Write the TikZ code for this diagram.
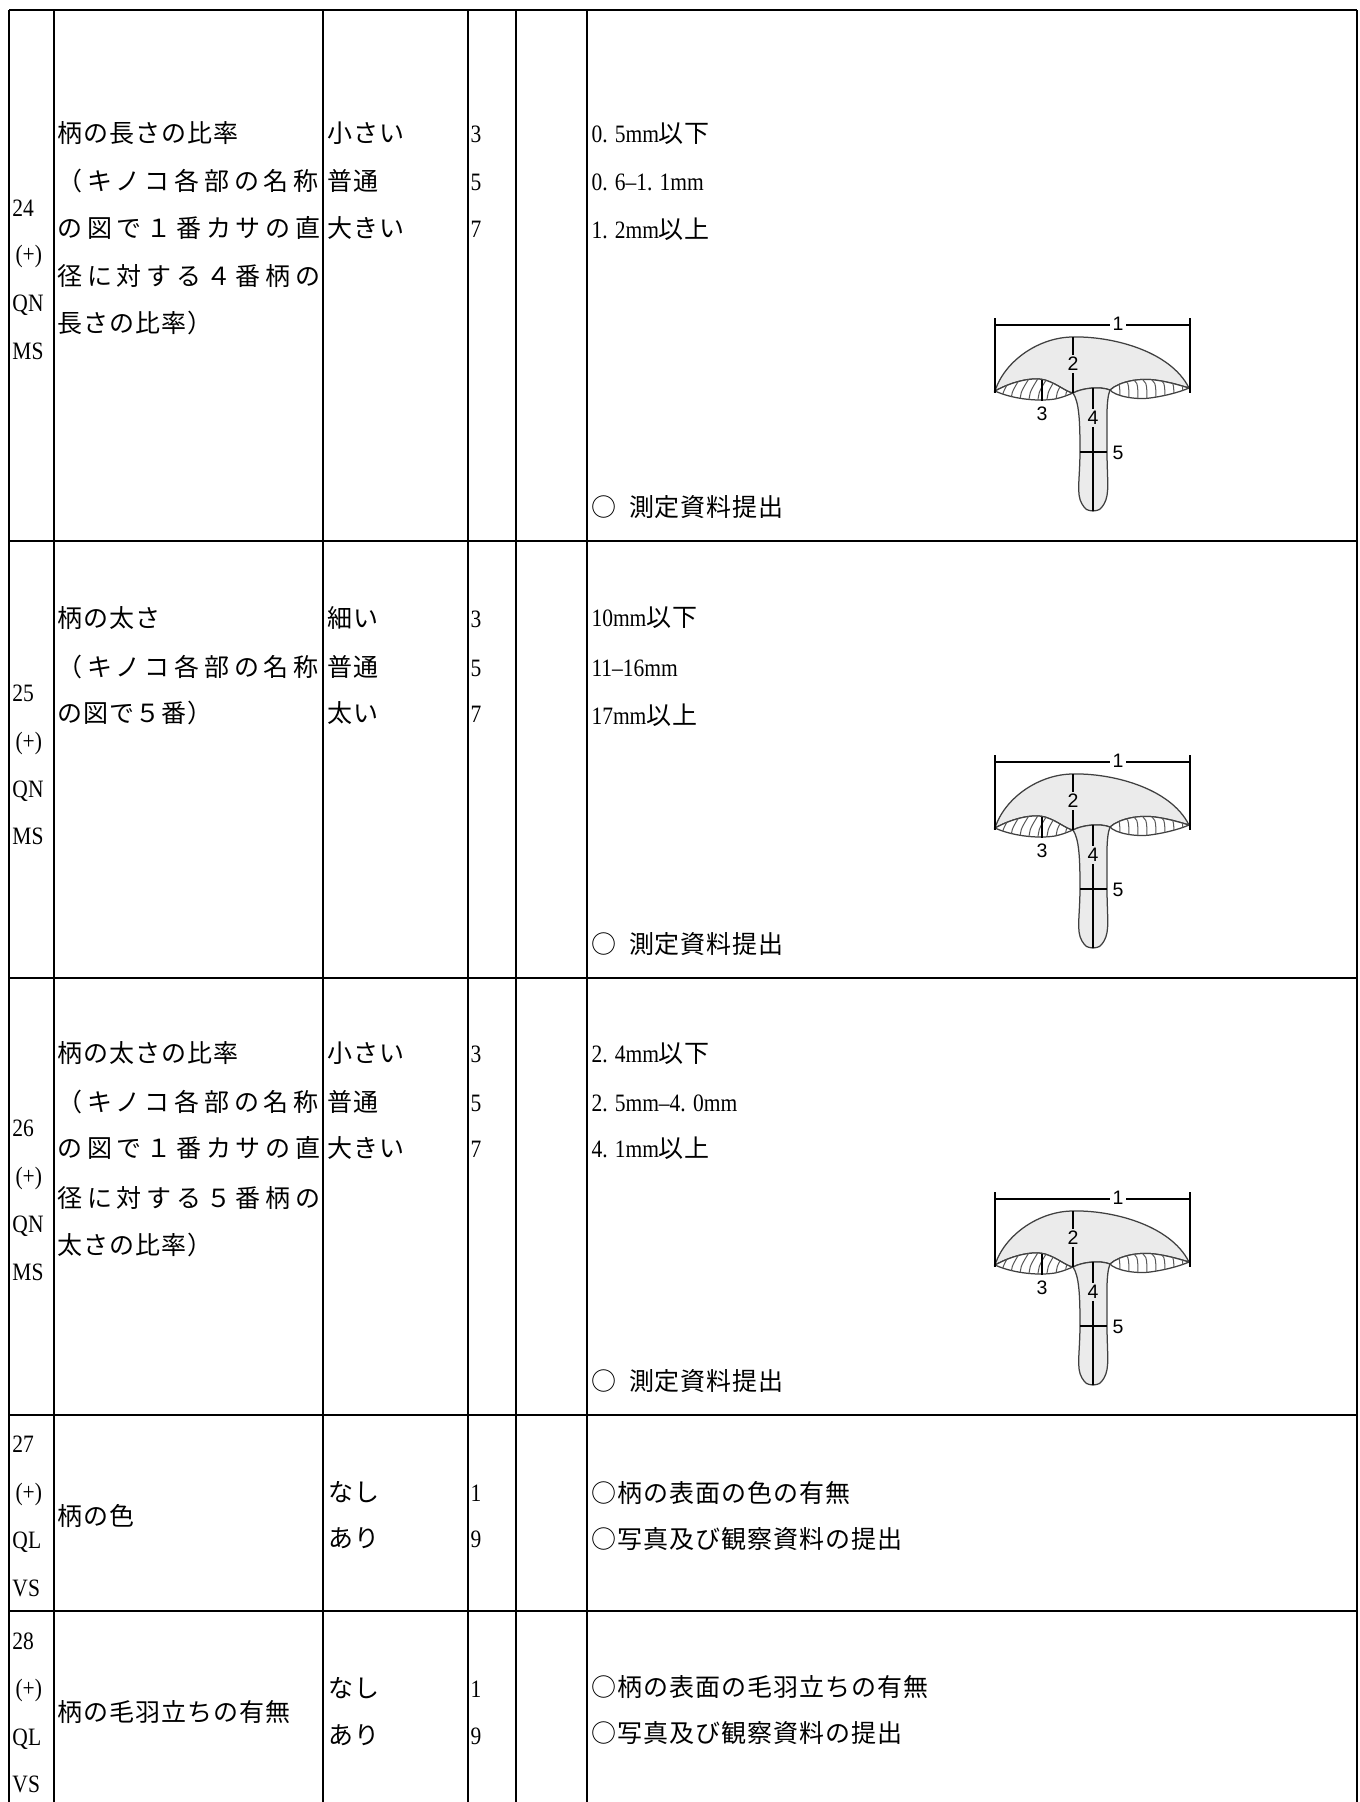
\documentclass[tikz,border=0pt]{standalone}
\usepackage{fontspec}
\setmainfont[FakeStretch=0.86]{Liberation Serif}
\setsansfont{Liberation Sans}
\newfontfamily\jp[LetterSpace=4]{Noto Sans CJK JP}
\newfontfamily\jpw[LetterSpace=19]{Noto Sans CJK JP}

\tikzset{
  grid/.style={line width=0.6pt},
  txt/.style={anchor=west, inner sep=0pt, text height=0.88em, text depth=0.12em, font=\fontsize{10}{12}\selectfont},
  part/.style={fill=black!8, draw=black!75, line width=0.5pt},
  gill/.style={fill=white, draw=black!75, line width=0.5pt},
  hatch/.style={draw=black!65, line width=0.4pt},
  dim/.style={draw=black, line width=0.45pt},
  num/.style={font=\sffamily\fontsize{7.8}{9}\selectfont, inner sep=1pt},
}

\begin{document}
\begin{tikzpicture}[x=0.4pt, y=-0.4pt]
  \useasboundingbox (0,0) rectangle (1360,1802);
  \fill[white] (0,0) rectangle (1360,1802);

  % table lines
  \foreach \x in {9,54,323,468,516,587,1357}
    \draw[grid] (\x,10) -- (\x,1802);
  \foreach \y in {10,541,978,1415,1611}
    \draw[grid] (9,\y) -- (1357,\y);

  % 24
  \node[txt] (id24) at (12,207) {24};
  \node[txt] (pl24) at (15,253) {(+)};
  \node[txt] (ty24) at (12,302) {QN};
  \node[txt] (mt24) at (12,350) {MS};
  \node[txt] (nm24a) at (57,133) {\jp 柄の長さの比率};
  \node[txt] (nm24b) at (57,181) {\jpw （キノコ各部の名称};
  \node[txt] (nm24c) at (57,228) {\jpw の図で１番カサの直};
  \node[txt] (nm24d) at (57,276) {\jpw 径に対する４番柄の};
  \node[txt] (nm24e) at (57,323) {\jp 長さの比率）};
  \node[txt] (lv24a) at (327,133) {\jp 小さい};
  \node[txt] (lv24b) at (327,181) {\jp 普通};
  \node[txt] (lv24c) at (327,228) {\jp 大きい};
  \node[txt] (cd24a) at (470,133) {3};
  \node[txt] (cd24b) at (470,181) {5};
  \node[txt] (cd24c) at (470,228) {7};
  \node[txt] (ex24a) at (591,133) {0. 5mm{\jp 以下}};
  \node[txt] (ex24b) at (591,181) {0. 6--1. 1mm};
  \node[txt] (ex24c) at (591,229) {1. 2mm{\jp 以上}};
  \node[txt] (ob24) at (591,507) {\jp ○\hspace{5pt}測定資料提出};

  % 25
  \node[txt] (id25) at (12,692) {25};
  \node[txt] (pl25) at (15,740) {(+)};
  \node[txt] (ty25) at (12,788) {QN};
  \node[txt] (mt25) at (12,835) {MS};
  \node[txt] (nm25a) at (57,618) {\jp 柄の太さ};
  \node[txt] (nm25b) at (57,667) {\jpw （キノコ各部の名称};
  \node[txt] (nm25c) at (57,713) {\jp の図で５番）};
  \node[txt] (lv25a) at (327,618) {\jp 細い};
  \node[txt] (lv25b) at (327,667) {\jp 普通};
  \node[txt] (lv25c) at (327,713) {\jp 太い};
  \node[txt] (cd25a) at (470,618) {3};
  \node[txt] (cd25b) at (470,667) {5};
  \node[txt] (cd25c) at (470,713) {7};
  \node[txt] (ex25a) at (591,617) {10mm{\jp 以下}};
  \node[txt] (ex25b) at (591,667) {11--16mm};
  \node[txt] (ex25c) at (591,715) {17mm{\jp 以上}};
  \node[txt] (ob25) at (591,944) {\jp ○\hspace{5pt}測定資料提出};

  % 26
  \node[txt] (id26) at (12,1127) {26};
  \node[txt] (pl26) at (15,1175) {(+)};
  \node[txt] (ty26) at (12,1223) {QN};
  \node[txt] (mt26) at (12,1271) {MS};
  \node[txt] (nm26a) at (57,1053) {\jp 柄の太さの比率};
  \node[txt] (nm26b) at (57,1102) {\jpw （キノコ各部の名称};
  \node[txt] (nm26c) at (57,1148) {\jpw の図で１番カサの直};
  \node[txt] (nm26d) at (57,1198) {\jpw 径に対する５番柄の};
  \node[txt] (nm26e) at (57,1245) {\jp 太さの比率）};
  \node[txt] (lv26a) at (327,1053) {\jp 小さい};
  \node[txt] (lv26b) at (327,1102) {\jp 普通};
  \node[txt] (lv26c) at (327,1148) {\jp 大きい};
  \node[txt] (cd26a) at (470,1053) {3};
  \node[txt] (cd26b) at (470,1102) {5};
  \node[txt] (cd26c) at (470,1148) {7};
  \node[txt] (ex26a) at (591,1053) {2. 4mm{\jp 以下}};
  \node[txt] (ex26b) at (591,1102) {2. 5mm--4. 0mm};
  \node[txt] (ex26c) at (591,1148) {4. 1mm{\jp 以上}};
  \node[txt] (ob26) at (591,1381) {\jp ○\hspace{5pt}測定資料提出};

  % 27
  \node[txt] (id27) at (12,1443) {27};
  \node[txt] (pl27) at (15,1491) {(+)};
  \node[txt] (ty27) at (12,1539) {QL};
  \node[txt] (mt27) at (12,1587) {VS};
  \node[txt] (nm27) at (57,1516) {\jp 柄の色};
  \node[txt] (lv27a) at (328,1492) {\jp なし};
  \node[txt] (lv27b) at (328,1538) {\jp あり};
  \node[txt] (cd27a) at (470,1492) {1};
  \node[txt] (cd27b) at (470,1538) {9};
  \node[txt] (ex27a) at (591,1493) {\jp ○柄の表面の色の有無};
  \node[txt] (ex27b) at (591,1539) {\jp ○写真及び観察資料の提出};

  % 28
  \node[txt] (id28) at (12,1640) {28};
  \node[txt] (pl28) at (15,1687) {(+)};
  \node[txt] (ty28) at (12,1736) {QL};
  \node[txt] (mt28) at (12,1783) {VS};
  \node[txt] (nm28) at (57,1712) {\jp 柄の毛羽立ちの有無};
  \node[txt] (lv28a) at (328,1688) {\jp なし};
  \node[txt] (lv28b) at (328,1735) {\jp あり};
  \node[txt] (cd28a) at (470,1688) {1};
  \node[txt] (cd28b) at (470,1735) {9};
  \node[txt] (ex28a) at (591,1687) {\jp ○柄の表面の毛羽立ちの有無};
  \node[txt] (ex28b) at (591,1733) {\jp ○写真及び観察資料の提出};

  % mushroom figure, once per measured row
  \foreach \dy in {0,437,874}{
  \begin{scope}[shift={(0,\dy)}]
    % cap
    \draw[part] (995,391) .. controls (1005,360) and (1040,337) .. (1073,337)
      .. controls (1110,336) and (1170,350) .. (1189,388)
      .. controls (1182,386) and (1170,382) .. (1155,380)
      .. controls (1140,378) and (1120,381) .. (1110,390)
      .. controls (1100,386) and (1082,388) .. (1073,393)
      .. controls (1066,392) and (1058,384) .. (1045,380)
      .. controls (1035,377) and (1015,380) .. (995,391) -- cycle;
    % gills
    \draw[gill] (995,391) .. controls (1015,380) and (1035,377) .. (1045,380)
      .. controls (1058,384) and (1066,392) .. (1073,393)
      .. controls (1063,397) .. (1055,399)
      .. controls (1035,402) and (1010,398) .. (995,391) -- cycle;
    \begin{scope}
      \clip (995,391) .. controls (1015,380) and (1035,377) .. (1045,380)
        .. controls (1058,384) and (1066,392) .. (1073,393)
        .. controls (1063,397) .. (1055,399)
        .. controls (1035,402) and (1010,398) .. (995,391) -- cycle;
      \foreach \x in {1002,1011,...,1074}
        \draw[hatch] (\x,406) .. controls (\x,393) .. (\x+10,377);
    \end{scope}
    \draw[gill] (1110,390) .. controls (1120,381) and (1140,378) .. (1155,380)
      .. controls (1170,382) and (1182,386) .. (1189,388)
      .. controls (1180,392) and (1165,396) .. (1150,398)
      .. controls (1135,400) and (1115,396) .. (1110,390) -- cycle;
    \begin{scope}
      \clip (1110,390) .. controls (1120,381) and (1140,378) .. (1155,380)
        .. controls (1170,382) and (1182,386) .. (1189,388)
        .. controls (1180,392) and (1165,396) .. (1150,398)
        .. controls (1135,400) and (1115,396) .. (1110,390) -- cycle;
      \foreach \x in {1110,1119,...,1186}
        \draw[hatch] (\x,377) .. controls (\x+10,381) .. (\x+10,404);
    \end{scope}
    % stem
    \draw[part] (1073,393) .. controls (1079,402) and (1080,420) .. (1080,450)
      .. controls (1080,480) and (1076,494) .. (1082,504)
      .. controls (1086,510) .. (1093,511)
      .. controls (1100,510) .. (1104,504)
      .. controls (1110,494) and (1107,480) .. (1107,450)
      .. controls (1107,420) and (1106,400) .. (1110,390)
      .. controls (1100,386) and (1082,388) .. (1073,393) -- cycle;
    % measures
    \draw[dim] (995,318) -- (995,393);
    \draw[dim] (1190,318) -- (1190,393);
    \draw[dim] (995,325) -- (1190,325);
    \node[num, fill=white] (one\dy) at (1118,324) {1};
    \draw[dim] (1073,337) -- (1073,393);
    \node[num, fill=black!8] (two\dy) at (1073,364) {2};
    \draw[dim] (1042,380) -- (1042,401);
    \node[num] (three\dy) at (1042,414) {3};
    \draw[dim] (1093,388) -- (1093,511);
    \node[num, fill=black!8] (four\dy) at (1093,418) {4};
    \draw[dim] (1080,452) -- (1107,452);
    \node[num] (five\dy) at (1118,453) {5};
  \end{scope}
  }
\end{tikzpicture}
\end{document}
